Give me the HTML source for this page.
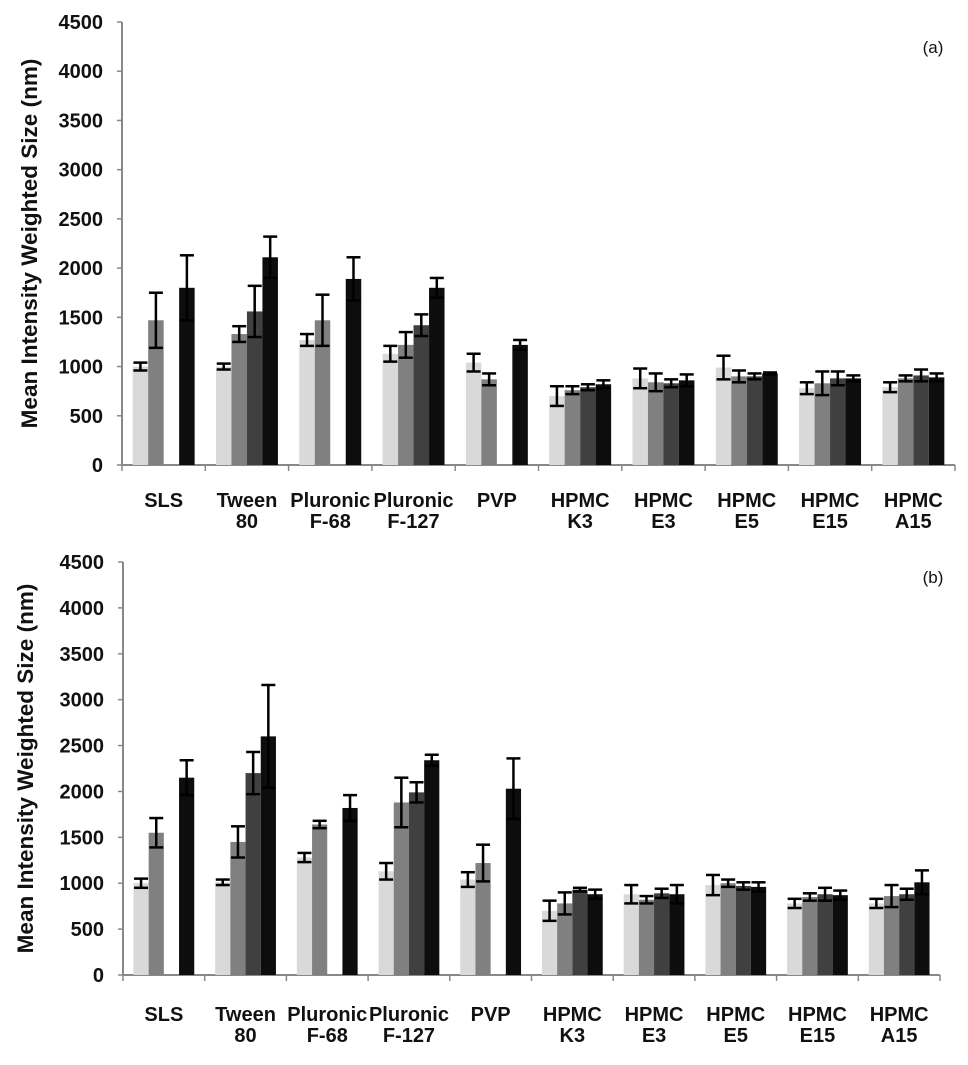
<!DOCTYPE html>
<html><head><meta charset="utf-8"><style>
body{margin:0;background:#fff;width:968px;height:1060px;overflow:hidden}
svg text{font-family:"Liberation Sans",Arial,sans-serif}
</style></head><body>
<svg id="chart" width="968" height="1060" viewBox="0 0 968 1060" xmlns="http://www.w3.org/2000/svg"></svg>
<script>
const categories = [["SLS"],["Tween","80"],["Pluronic","F-68"],["Pluronic","F-127"],["PVP"],["HPMC","K3"],["HPMC","E3"],["HPMC","E5"],["HPMC","E15"],["HPMC","A15"]];
const yTicks = [0,500,1000,1500,2000,2500,3000,3500,4000,4500];
const seriesColors = ["#d9d9d9","#808080","#404040","#0d0d0d"];
// panel (a) values, series 1..4 (null = no bar)
const aS1 = [1000,1000,1270,1130,1040,700,880,990,780,790];
const aS2 = [1470,1330,1470,1220,870,760,840,900,830,880];
const aS3 = [null,1560,null,1420,null,790,830,900,880,910];
const aS4 = [1800,2110,1890,1800,1220,820,860,930,880,890];
const aE1 = [40,30,60,80,90,100,100,120,60,50];
const aE2 = [280,80,260,130,60,40,90,60,120,30];
const aE3 = [0,260,0,110,0,30,40,30,70,60];
const aE4 = [330,210,220,100,50,40,60,10,30,40];
// panel (b)
const bS1 = [1000,1010,1280,1130,1040,700,880,980,780,780];
const bS2 = [1550,1450,1640,1880,1220,780,820,1000,850,860];
const bS3 = [null,2200,null,1990,null,930,890,970,880,880];
const bS4 = [2150,2600,1820,2340,2030,880,880,960,870,1010];
const bE1 = [50,30,50,90,80,110,100,110,50,50];
const bE2 = [160,170,40,270,200,120,40,40,40,120];
const bE3 = [0,230,0,110,0,20,50,40,70,60];
const bE4 = [190,560,140,60,330,50,100,50,50,130];

const svg = document.getElementById('chart');
const NS = "http://www.w3.org/2000/svg";
function mk(tag, attrs, parent){const e=document.createElementNS(NS,tag);for(const k in attrs)e.setAttribute(k,attrs[k]);(parent||svg).appendChild(e);return e;}

function panel(cfg){
  const g = mk('g',{});
  
  
  const y = v => cfg.y0 - v/4500*(cfg.y0-cfg.yTop);
  const step = (cfg.xEnd-cfg.x0)/categories.length;
  const ya = mk('line',{x1:cfg.x0,y1:cfg.yTop,x2:cfg.x0,y2:cfg.y0,stroke:'#888','stroke-width':2},g);
  
  
  yTicks.forEach(t=>{
    mk('line',{x1:cfg.x0-5,y1:y(t),x2:cfg.x0,y2:y(t),stroke:'#888','stroke-width':1.5},g);
    const tx = mk('text',{x:cfg.x0-19,y:y(t)+7,'text-anchor':'end','font-size':20,'font-weight':'bold',fill:'#111'},g);
    tx.textContent = t;
    
    
  });
  const xa = mk('line',{x1:cfg.x0,y1:cfg.y0,x2:cfg.xEnd,y2:cfg.y0,stroke:'#888','stroke-width':2},g);
  
  
  for(let i=0;i<=categories.length;i++){
    mk('line',{x1:cfg.x0+i*step,y1:cfg.y0,x2:cfg.x0+i*step,y2:cfg.y0+6,stroke:'#888','stroke-width':1.5},g);
  }
  const bw = step*0.186;
  const pad = (step-4*bw)/2;
  categories.forEach((c,i)=>{
    cfg.series.forEach((s,j)=>{
      const v = s[i]; if(v===null) return;
      const bx = cfg.x0+i*step+pad+j*bw;
      const r = mk('rect',{x:bx,y:y(v),width:bw,height:cfg.y0-y(v),fill:seriesColors[j]},g);
      
      
      const e = cfg.errs[j][i];
      if(e>0){
        const cx = bx+bw/2;
        const eg = mk('g',{stroke:'#000','stroke-width':2.5},g);
        
        
        mk('line',{x1:cx,y1:y(v+e),x2:cx,y2:y(v-e)},eg);
        mk('line',{x1:cx-7,y1:y(v+e),x2:cx+7,y2:y(v+e)},eg);
        mk('line',{x1:cx-7,y1:y(v-e),x2:cx+7,y2:y(v-e)},eg);
      }
    });
    c.forEach((ln,k)=>{
      const t = mk('text',{x:cfg.x0+i*step+step/2,y:cfg.labY+k*21,'text-anchor':'middle','font-size':20,'font-weight':'bold',fill:'#111'},g);
      t.textContent = ln;
      
      
    });
  });
  const mid = (cfg.y0+cfg.yTop)/2;
  const yt = mk('text',{x:0,y:0,transform:`translate(${cfg.titleX},${mid}) rotate(-90)`,'text-anchor':'middle','font-size':22.5,'font-weight':'bold',fill:'#111'},g);
  yt.textContent = 'Mean Intensity Weighted Size (nm)';
  
  
  const pl = mk('text',{x:cfg.labelX,y:cfg.labelY,'text-anchor':'middle','font-size':17,fill:'#111'},g);
  pl.textContent = '('+cfg.id+')';
  
  
}
panel({id:'a',x0:122,xEnd:955,yTop:22,y0:465,labY:507,titleX:37,labelX:933,labelY:53,
  series:[aS1,aS2,aS3,aS4],errs:[aE1,aE2,aE3,aE4]});
panel({id:'b',x0:123,xEnd:940,yTop:562,y0:975,labY:1021,titleX:33,labelX:933,labelY:583,
  series:[bS1,bS2,bS3,bS4],errs:[bE1,bE2,bE3,bE4]});
</script>
</body></html>
